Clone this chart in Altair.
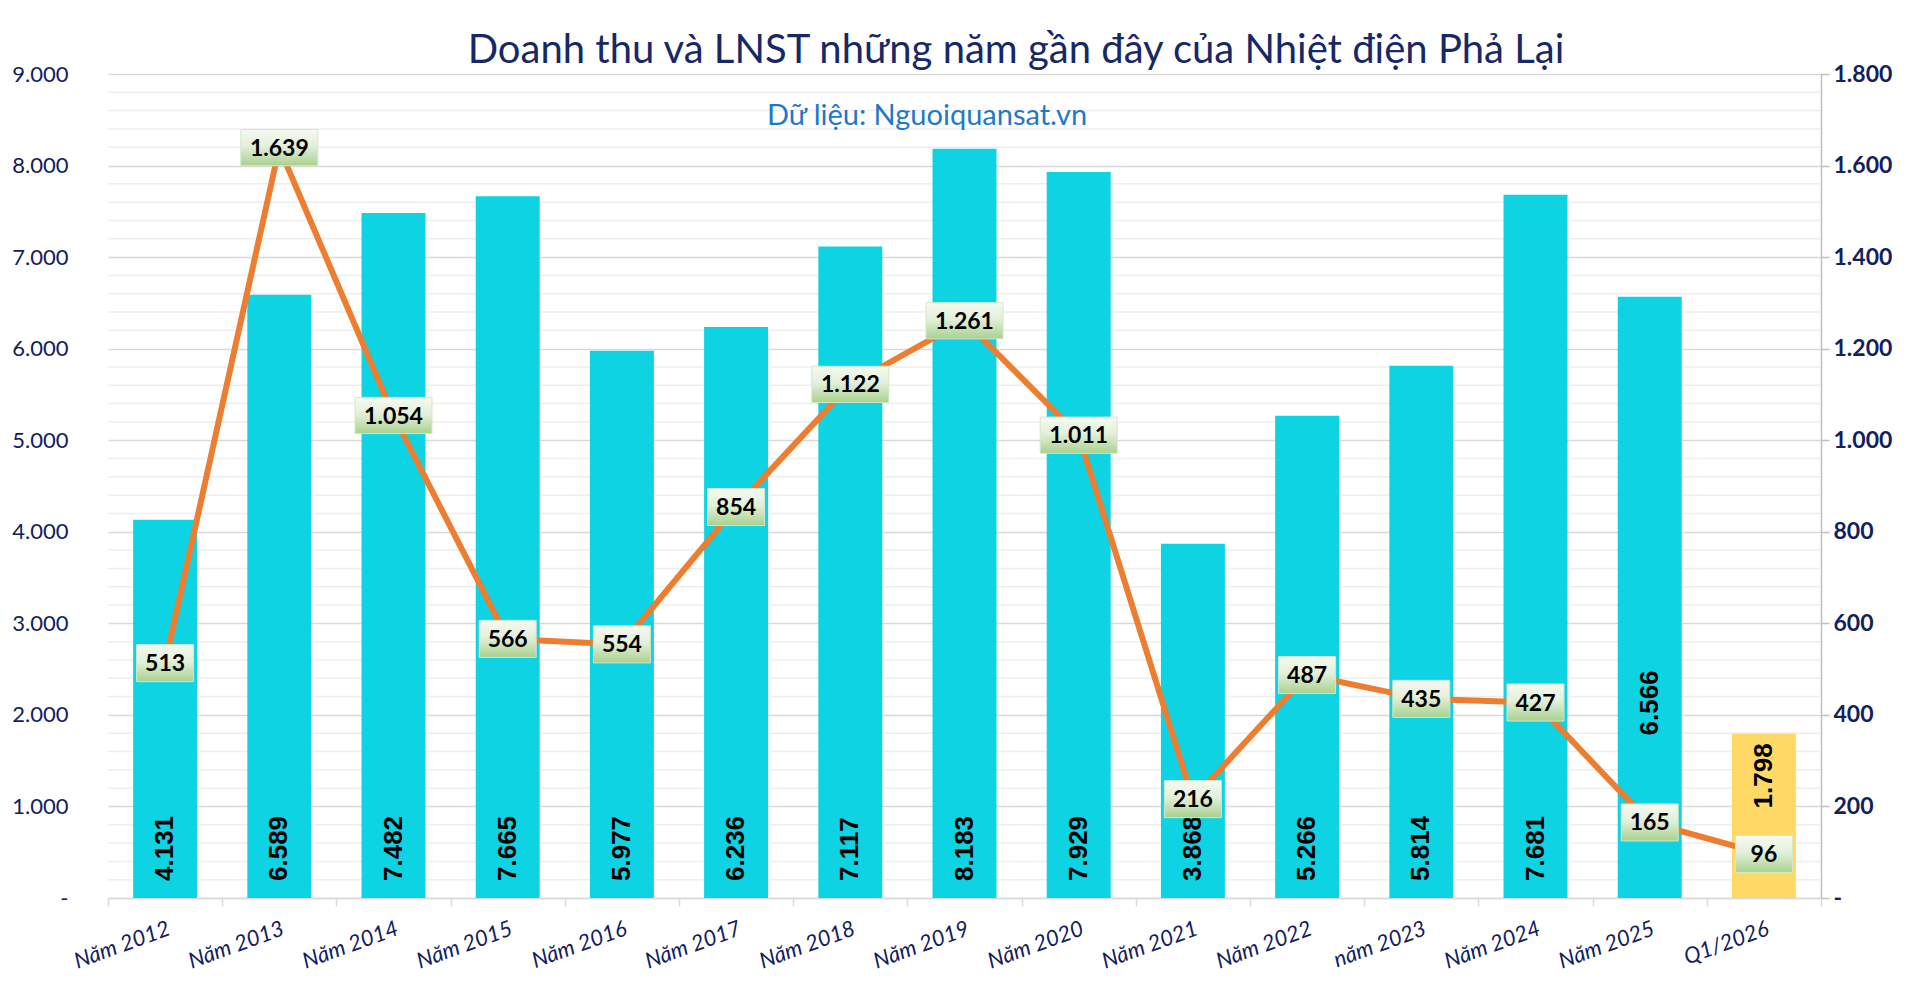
import altair as alt
import pandas as pd

# ---- data ----
categories = ["Năm 2012", "Năm 2013", "Năm 2014", "Năm 2015", "Năm 2016", "Năm 2017",
              "Năm 2018", "Năm 2019", "Năm 2020", "Năm 2021", "Năm 2022", "năm 2023",
              "Năm 2024", "Năm 2025", "Q1/2026"]
revenue = [4131, 6589, 7482, 7665, 5977, 6236, 7117, 8183, 7929, 3868, 5266, 5814, 7681, 6566, 1798]
profit = [513, 1639, 1054, 566, 554, 854, 1122, 1261, 1011, 216, 487, 435, 427, 165, 96]
bar_kind = ["year"] * 14 + ["quarter"]
label_mode = ["base"] * 13 + ["mid", "top"]

left_ticks = list(range(0, 9001, 1000))
right_ticks = list(range(0, 1801, 200))
minor_grid = [v for v in range(200, 9001, 200) if v % 1000 != 0]

title_text = "Doanh thu và LNST những năm gần đây của Nhiệt điện Phả Lại"
source_text = "Dữ liệu: Nguoiquansat.vn"

df = pd.DataFrame({"cat": categories, "rev": revenue, "lnst": profit,
                   "kind": bar_kind, "mode": label_mode})

NAVY = "#12205E"
W, H = 1713, 824

num_expr = "datum.value == 0 ? '-\u00a0\u00a0\u00a0' : replace(format(datum.value, ','), ',', '.')"
num_expr_r = "datum.value == 0 ? '\u00a0\u00a0-' : replace(format(datum.value, ','), ',', '.')"

x_axis = alt.Axis(title=None, tickBand="extent", domainColor="#d9d9d9", domainWidth=1.5,
                  tickColor="#d9d9d9", tickWidth=1.5, tickSize=8,
                  labelAngle=340, labelAlign="right", labelBaseline="top",
                  labelPadding=12, labelFont="Lato", labelFontStyle="italic",
                  labelFontSize=22, labelColor=NAVY, grid=False)
x_enc = alt.X("cat:N", sort=categories,
              scale=alt.Scale(paddingInner=0, paddingOuter=0), axis=x_axis)

left_scale = alt.Scale(domain=[0, 9000], nice=False, zero=True)
right_scale = alt.Scale(domain=[0, 1800], nice=False, zero=True)

left_axis = alt.Axis(title=None, values=left_ticks, grid=True, gridColor="#d9d9d9",
                     gridWidth=1.5, domain=False, ticks=False, labelFont="Lato",
                     labelFontSize=22, labelColor=NAVY, labelPadding=40,
                     labelExpr=num_expr)
right_axis = alt.Axis(title=None, orient="right", values=right_ticks, grid=False,
                      domain=True, domainColor="#bfbfbf", domainWidth=1.5,
                      ticks=True, tickColor="#bfbfbf", tickWidth=1.5, tickSize=8,
                      labelFont="Lato", labelFontWeight="bold", labelFontSize=23,
                      labelColor=NAVY, labelPadding=4, labelExpr=num_expr_r)


def ly(field):
    return alt.Y(field, scale=left_scale, axis=left_axis)


def ry(field):
    return alt.Y(field, scale=right_scale, axis=right_axis)


base = alt.Chart(df).transform_calculate(
    rev_lbl="replace(format(datum.rev, ','), ',', '.')",
    lnst_lbl="replace(format(datum.lnst, ','), ',', '.')",
    zero="0",
    mid_anchor="1775",
)

# ---- left-axis group ----
minor = alt.Chart(pd.DataFrame({"g": minor_grid})).mark_rule(
    color="#eeeeee", strokeWidth=1.5
).encode(y=ly("g:Q"))

bars = base.mark_bar(width=alt.RelativeBandSize(0.56)).encode(
    x=x_enc,
    y=ly("rev:Q"),
    color=alt.Color("kind:N", scale=alt.Scale(domain=["year", "quarter"],
                                              range=["#0DD3E2", "#FFD966"]), legend=None),
)

lab_style = dict(angle=270, font="Liberation Sans", fontWeight="bold", fontSize=26,
                 color="black", baseline="middle")

lab_base = base.transform_filter("datum.mode == 'base'").mark_text(
    align="left", dx=17, **lab_style
).encode(x=x_enc, y=ly("zero:Q"), text="rev_lbl:N")

lab_mid = base.transform_filter("datum.mode == 'mid'").mark_text(
    align="left", dx=0, **lab_style
).encode(x=x_enc, y=ly("mid_anchor:Q"), text="rev_lbl:N")

lab_top = base.transform_filter("datum.mode == 'top'").mark_text(
    align="right", dx=-10, **lab_style
).encode(x=x_enc, y=ly("rev:Q"), text="rev_lbl:N")

title_mark = alt.Chart(pd.DataFrame({"t": [title_text]})).mark_text(
    font="Lato", fontSize=40, color="#172868", align="center", baseline="middle"
).encode(text="t:N", x=alt.value(908), y=alt.value(-23))

source_mark = alt.Chart(pd.DataFrame({"t": [source_text]})).mark_text(
    font="Lato", fontSize=29, color="#1F78C8", align="center", baseline="middle"
).encode(text="t:N", x=alt.value(819), y=alt.value(42))

left_group = alt.layer(minor, bars, lab_base, lab_mid, lab_top, title_mark, source_mark)

# ---- right-axis group ----
line = base.mark_line(color="#ED7D31", strokeWidth=6).encode(x=x_enc, y=ry("lnst:Q"))

green = alt.LinearGradient(
    gradient="linear",
    stops=[alt.GradientStop(color="#f5faf1", offset=0),
           alt.GradientStop(color="#e3f0da", offset=0.45),
           alt.GradientStop(color="#a9d18e", offset=1)],
    x1=0, x2=0, y1=0, y2=1,
)

box_narrow = base.transform_filter("datum.lnst < 1000").mark_point(
    shape="M-1,-0.65L1,-0.65L1,0.65L-1,0.65Z", size=3249, filled=True,
    fill=green, stroke="#d5e6c8", strokeWidth=1, opacity=1
).encode(x=x_enc, y=ry("lnst:Q"))

box_wide = base.transform_filter("datum.lnst >= 1000").mark_point(
    shape="M-1,-0.47L1,-0.47L1,0.47L-1,0.47Z", size=5929, filled=True,
    fill=green, stroke="#d5e6c8", strokeWidth=1, opacity=1
).encode(x=x_enc, y=ry("lnst:Q"))

box_text = base.mark_text(
    font="Lato", fontWeight="bold", fontSize=23, color="black",
    align="center", baseline="middle", dy=1
).encode(x=x_enc, y=ry("lnst:Q"), text="lnst_lbl:N")

right_group = alt.layer(line, box_narrow, box_wide, box_text)

chart = alt.layer(left_group, right_group).resolve_scale(y="independent").properties(
    width=W, height=H,
    autosize=alt.AutoSizeParams(type="none"),
    padding={"left": 108, "top": 74, "right": 99, "bottom": 89},
    background="white",
).configure_view(stroke=None)

chart.save("out.html", embed_options={"renderer": "svg", "actions": False})
